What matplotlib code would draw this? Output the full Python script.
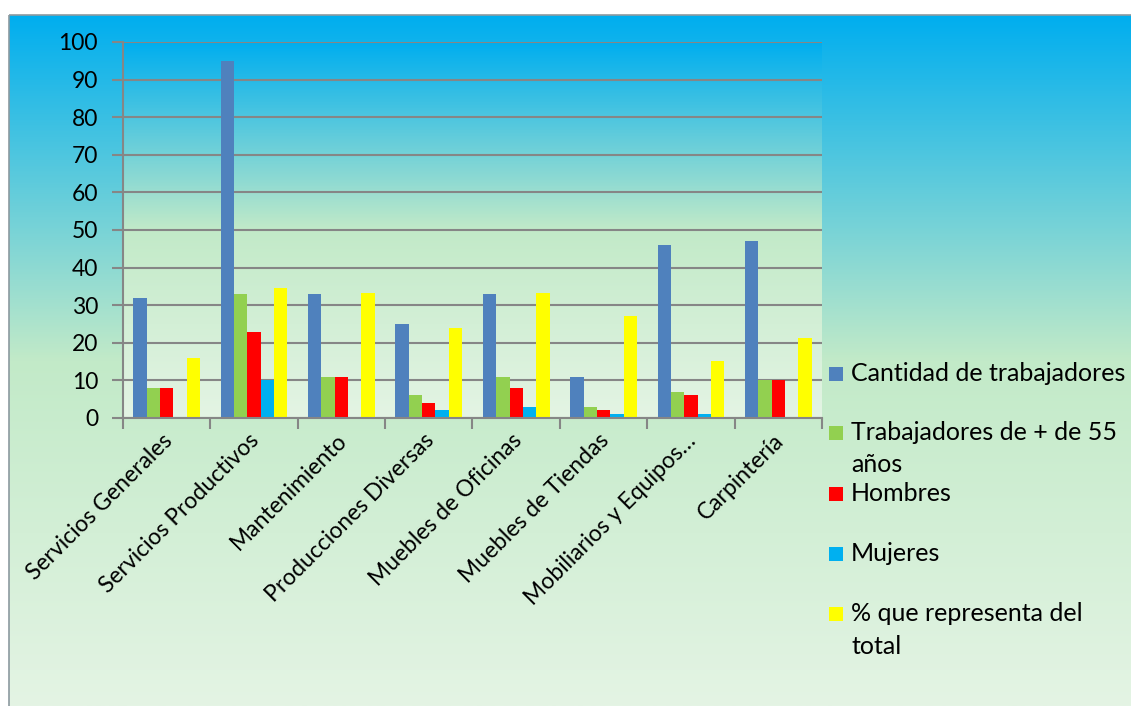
import matplotlib
matplotlib.use('Agg')
import matplotlib.pyplot as plt
import matplotlib.transforms as mtrans
import numpy as np
from matplotlib.colors import LinearSegmentedColormap
from matplotlib.patches import Rectangle

plt.rcParams['font.family'] = ['Lato', 'DejaVu Sans']

# -----------------------------------------------------------------------
# Data
# -----------------------------------------------------------------------
categories = ['Servicios Generales', 'Servicios Productivos', 'Mantenimiento',
              'Producciones Diversas', 'Muebles de Oficinas', 'Muebles de Tiendas',
              'Mobiliarios y Equipos…', 'Carpintería']

cantidad = [32, 95, 33, 25, 33, 11, 46, 47]
mayores_55 = [8, 33, 11, 6, 11, 3, 7, 10]
hombres = [8, 23, 11, 4, 8, 2, 6, 10]
mujeres = [0, 10, 0, 2, 3, 1, 1, 0]
porcentaje = [16, 34.6, 33.2, 24, 33.3, 27.2, 15.2, 21.4]

series_names = ['Cantidad de trabajadores', 'Trabajadores de + de 55\naños',
                'Hombres', 'Mujeres', '% que representa del\ntotal']
series_values = [cantidad, mayores_55, hombres, mujeres, porcentaje]
series_colors = ['#4F81BD', '#92D050', '#FF0000', '#00B0F0', '#FFFF00']

# gradient used by both the chart area and the plot area
grad = LinearSegmentedColormap.from_list(
    'bg', [(0.0, '#00AEEF'), (0.5, '#C2EAC8'), (1.0, '#E4F4E4')])

W, H = 1131, 706
fig = plt.figure(figsize=(W / 100, H / 100), dpi=100)
fig.patch.set_facecolor('white')

# chart area background (pixel coordinates, y downwards)
bg = fig.add_axes([0, 0, 1, 1], zorder=-10)
bg.axis('off')
g = np.linspace(0, 1, 256).reshape(-1, 1)
bg.imshow(g, cmap=grad, aspect='auto', extent=[9, W, H, 15], origin='upper')
bg.add_patch(Rectangle((9, 15), W, H, fill=False, edgecolor='#8C9AA0', lw=1.2))
bg.set_xlim(0, W)
bg.set_ylim(H, 0)

# plot area
ax = fig.add_axes([123 / W, 1 - 418 / H, (822 - 123) / W, (418 - 42) / H])
ax.set_facecolor('none')
ax.imshow(g, cmap=grad, aspect='auto', extent=[-0.5, 7.5, 0, 100],
          origin='upper', zorder=0)

n = len(series_values)
bw = 0.153
x = np.arange(len(categories))
for i, (vals, col) in enumerate(zip(series_values, series_colors)):
    ax.bar(x + (i - (n - 1) / 2) * bw, vals, width=bw, color=col,
           label=series_names[i], zorder=3)

ax.set_xlim(-0.5, 7.5)
ax.set_ylim(0, 100)
ax.set_yticks(range(0, 101, 10))
ax.yaxis.grid(True, color='#868686', lw=1.5, zorder=1)
for s in ['top', 'right']:
    ax.spines[s].set_visible(False)
for s in ['left', 'bottom']:
    ax.spines[s].set_color('#868686')
    ax.spines[s].set_linewidth(1.5)
    ax.spines[s].set_zorder(4)

# boundary ticks on the category axis, labels at the centres
ax.set_xticks(np.arange(-0.5, 8, 1))
ax.set_xticklabels([])
ax.tick_params(axis='x', which='major', length=8, width=1.5, color='#868686')
ax.tick_params(axis='y', length=8, width=1.5, color='#868686',
               labelsize=16.5, pad=10)
ax.set_xticks(x, minor=True)
ax.set_xticklabels(categories, minor=True, rotation=45, ha='right',
                   va='center', rotation_mode='anchor', fontsize=16.5)
ax.tick_params(axis='x', which='minor', length=0, pad=14)
shift = mtrans.ScaledTranslation(0.02, 0, fig.dpi_scale_trans)
for lab in ax.get_xticklabels(minor=True):
    lab.set_transform(lab.get_transform() + shift)

# legend laid out like the spreadsheet one: square next to the first line
legend_baselines = [381, 440, 501, 561, 621]
line_step = 32.5
for name, col, yb in zip(series_names, series_colors, legend_baselines):
    bg.add_patch(Rectangle((829, yb - 14), 14, 14, facecolor=col,
                           edgecolor='none'))
    for j, line in enumerate(name.split('\n')):
        bg.text(851, yb + j * line_step, line, fontsize=18, va='baseline',
                ha='left', color='black')

fig.savefig('out.png', dpi=100)
